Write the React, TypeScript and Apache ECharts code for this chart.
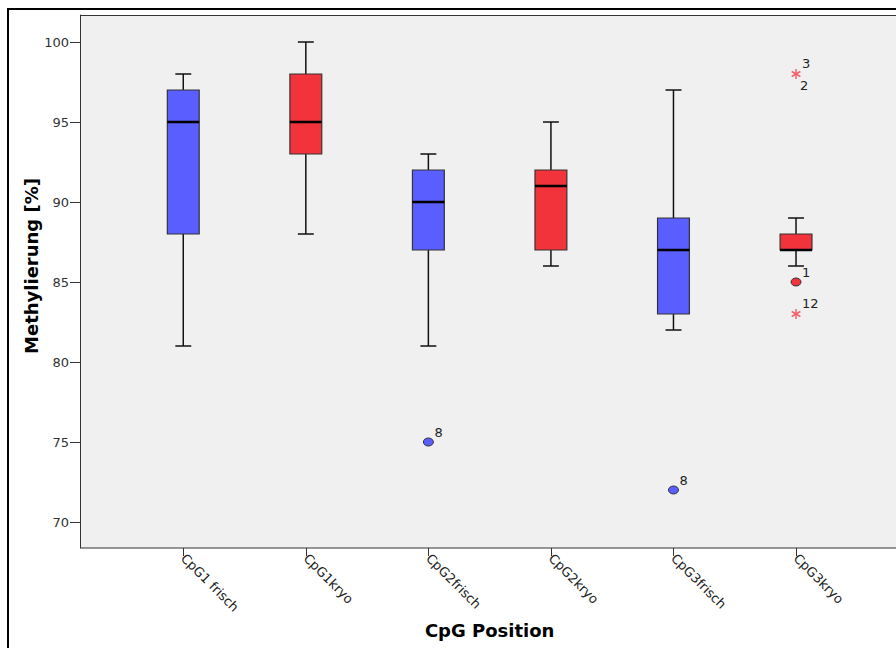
import React, { useEffect, useRef } from "react";
import * as echarts from "echarts";

const categories = ["CpG1 frisch", "CpG1kryo", "CpG2frisch", "CpG2kryo", "CpG3frisch", "CpG3kryo"];
const boxMin = [81, 88, 81, 86, 82, 86];
const boxQ1 = [88, 93, 87, 87, 83, 87];
const boxMedian = [95, 95, 90, 91, 87, 87];
const boxQ3 = [97, 98, 92, 92, 89, 88];
const boxMax = [98, 100, 93, 95, 97, 89];

const outlierCat = [2, 4, 5];
const outlierVal = [75, 72, 85];
const outlierLabel = ["8", "8", "1"];

const extremeCat = [5, 5];
const extremeVal = [98, 83];
const extremeLabelAbove = ["3", "12"];
const extremeLabelBelow = ["2", ""];

const yTicks = [70, 75, 80, 85, 90, 95, 100];

const BLUE = "#5a5eff";
const RED = "#f2333b";
const STAR = "#f2606e";
const FONT = "'DejaVu Sans', Verdana, sans-serif";

export default function App() {
  const ref = useRef<HTMLDivElement>(null);
  useEffect(() => {
    if (!ref.current) return;
    const chart = echarts.init(ref.current, null, { renderer: "svg" });
    const boxData = categories.map((_, i) => [i, boxMin[i], boxQ1[i], boxMedian[i], boxQ3[i], boxMax[i]]);
    const outData = outlierCat.map((c, i) => [c, outlierVal[i], i]);
    const extData = extremeCat.map((c, i) => [c, extremeVal[i], i]);

    const option: any = {
      animation: false,
      textStyle: { fontFamily: FONT },
      graphic: [
        {
          type: "rect",
          z: -20,
          shape: { x: 8, y: 9, width: 900, height: 660 },
          style: { fill: "#ffffff", stroke: "#000000", lineWidth: 2 },
        },
        {
          type: "rect",
          z: -10,
          shape: { x: 80.5, y: 15.5, width: 840, height: 532.5 },
          style: { fill: "#f0f0f0", stroke: "#333333", lineWidth: 1 },
        },
        {
          type: "text",
          x: 31,
          y: 266,
          rotation: Math.PI / 2,
          style: {
            text: "Methylierung [%]",
            x: 0,
            y: 0,
            align: "center",
            verticalAlign: "middle",
            font: `bold 18px ${FONT}`,
            fill: "#000000",
          },
        },
      ],
      grid: { left: 122, right: 38.7, top: 15, bottom: 100 },
      xAxis: {
        type: "category",
        data: categories,
        name: "CpG Position",
        nameLocation: "middle",
        nameGap: 71,
        nameTextStyle: { fontSize: 18, fontWeight: "bold", color: "#000", fontFamily: FONT },
        axisLine: { show: false },
        axisTick: { show: true, alignWithLabel: true, length: 8, lineStyle: { color: "#333" } },
        axisLabel: { rotate: -45, fontSize: 13, color: "#222", margin: 8, fontFamily: FONT },
        splitLine: { show: false },
      },
      yAxis: {
        type: "value",
        min: 68.375,
        max: 101.6875,
        offset: 42,
        axisLine: { show: true, lineStyle: { color: "#333" } },
        axisTick: { show: true, length: 10, customValues: yTicks, lineStyle: { color: "#333" } },
        axisLabel: { customValues: yTicks, fontSize: 13, color: "#333", margin: 11, fontFamily: FONT },
        splitLine: { show: false },
      },
      series: [
        {
          type: "custom",
          data: boxData,
          encode: { x: 0, y: [1, 2, 3, 4, 5] },
          renderItem: (params: any, api: any) => {
            const i = api.value(0);
            const pMin = api.coord([i, api.value(1)]);
            const pQ1 = api.coord([i, api.value(2)]);
            const pMed = api.coord([i, api.value(3)]);
            const pQ3 = api.coord([i, api.value(4)]);
            const pMax = api.coord([i, api.value(5)]);
            const band = api.size([1, 0])[0];
            const bw = band * 0.26;
            const cw = band * 0.13;
            const x = pMin[0];
            const color = i % 2 === 0 ? BLUE : RED;
            const ws = { stroke: "#111", lineWidth: 1.5 };
            return {
              type: "group",
              children: [
                { type: "line", shape: { x1: x, y1: pMax[1], x2: x, y2: pQ3[1] }, style: ws },
                { type: "line", shape: { x1: x, y1: pQ1[1], x2: x, y2: pMin[1] }, style: ws },
                { type: "line", shape: { x1: x - cw / 2, y1: pMax[1], x2: x + cw / 2, y2: pMax[1] }, style: ws },
                { type: "line", shape: { x1: x - cw / 2, y1: pMin[1], x2: x + cw / 2, y2: pMin[1] }, style: ws },
                {
                  type: "rect",
                  shape: { x: x - bw / 2, y: pQ3[1], width: bw, height: pQ1[1] - pQ3[1] },
                  style: { fill: color, stroke: "#333", lineWidth: 1.2 },
                },
                {
                  type: "line",
                  shape: { x1: x - bw / 2, y1: pMed[1], x2: x + bw / 2, y2: pMed[1] },
                  style: { stroke: "#000", lineWidth: 2.5 },
                },
              ],
            };
          },
          z: 3,
        },
        {
          type: "custom",
          data: outData,
          encode: { x: 0, y: 1 },
          renderItem: (params: any, api: any) => {
            const c = api.value(0);
            const k = api.value(2);
            const p = api.coord([c, api.value(1)]);
            const color = c % 2 === 0 ? BLUE : RED;
            return {
              type: "group",
              children: [
                {
                  type: "ellipse",
                  shape: { cx: p[0], cy: p[1], rx: 5, ry: 4 },
                  style: { fill: color, stroke: "#333", lineWidth: 1 },
                },
                {
                  type: "text",
                  style: {
                    text: outlierLabel[k],
                    x: p[0] + 6,
                    y: p[1] - 3,
                    align: "left",
                    verticalAlign: "bottom",
                    font: `13px ${FONT}`,
                    fill: "#222",
                  },
                },
              ],
            };
          },
          z: 4,
        },
        {
          type: "custom",
          data: extData,
          encode: { x: 0, y: 1 },
          renderItem: (params: any, api: any) => {
            const c = api.value(0);
            const k = api.value(2);
            const p = api.coord([c, api.value(1)]);
            const r = 5;
            const st = { stroke: STAR, lineWidth: 1.5 };
            const children: any[] = [];
            [90, 30, 150].forEach((deg) => {
              const a = (deg * Math.PI) / 180;
              children.push({
                type: "line",
                shape: {
                  x1: p[0] - r * Math.cos(a),
                  y1: p[1] - r * Math.sin(a),
                  x2: p[0] + r * Math.cos(a),
                  y2: p[1] + r * Math.sin(a),
                },
                style: st,
              });
            });
            if (extremeLabelAbove[k]) {
              children.push({
                type: "text",
                style: {
                  text: extremeLabelAbove[k],
                  x: p[0] + 6,
                  y: p[1] - 4,
                  align: "left",
                  verticalAlign: "bottom",
                  font: `13px ${FONT}`,
                  fill: "#222",
                },
              });
            }
            if (extremeLabelBelow[k]) {
              children.push({
                type: "text",
                style: {
                  text: extremeLabelBelow[k],
                  x: p[0] + 4,
                  y: p[1] + 5,
                  align: "left",
                  verticalAlign: "top",
                  font: `13px ${FONT}`,
                  fill: "#222",
                },
              });
            }
            return { type: "group", children };
          },
          z: 4,
        },
      ],
    };
    chart.setOption(option);
    return () => chart.dispose();
  }, []);
  return (
    <div
      ref={ref}
      style={{ position: "fixed", left: 0, top: 0, width: 896, height: 648, background: "#fff" }}
    />
  );
}
